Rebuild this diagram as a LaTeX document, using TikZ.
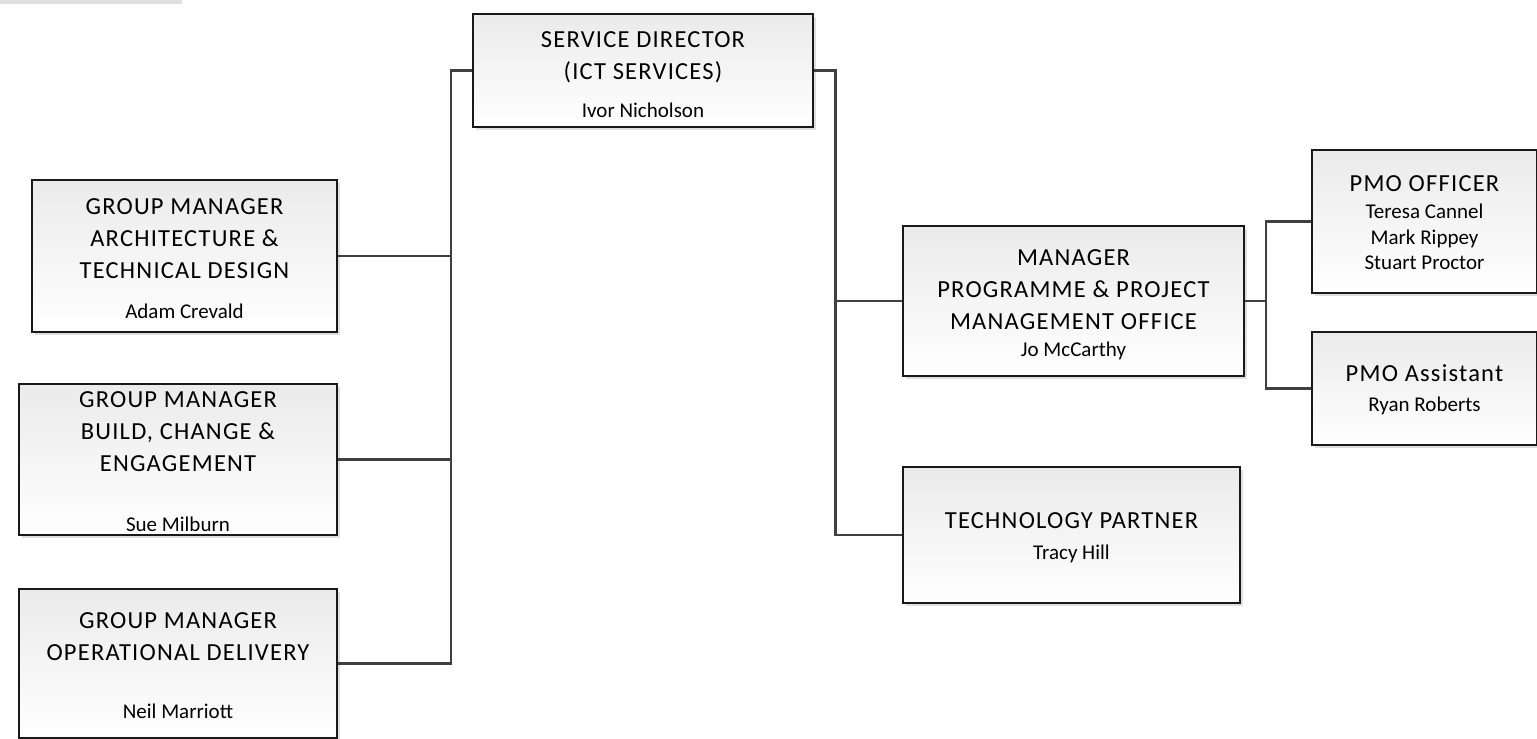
\documentclass[tikz,border=0pt]{standalone}
\usepackage{fontspec}
\setmainfont{Carlito}
\newfontfamily\spacedfamily[LetterSpace=5]{Carlito}
\usetikzlibrary{shadows}
\newcommand{\titlefont}{\spacedfamily\fontsize{24.5}{32}\selectfont}
\newcommand{\namefont}{\fontsize{21}{25.5}\selectfont}

\begin{document}
\begin{tikzpicture}[x=1pt, y=-1pt,
  orgbox/.style={draw=black!90, line width=2pt, top color=black!8, bottom color=white,
    drop shadow={shadow xshift=3pt, shadow yshift=-3pt, fill=black!25, opacity=0.5}},
  title/.style={align=center, font=\titlefont, inner sep=0pt, anchor=base},
  person/.style={align=center, font=\namefont, inner sep=0pt, anchor=base},
  link/.style={draw=black!75, line width=2.5pt}]
  \useasboundingbox (0,0) rectangle (1537,739);

  % shadow of a box above the page
  \fill[black!12] (0,0) rectangle (182,3.5);

  % buses
  \coordinate (lbus) at (451,71);
  \coordinate (rbus) at (835.5,71);
  \coordinate (pbus) at (1266,301);

  % boxes
  \node[orgbox, minimum width=340pt, minimum height=113pt] (sd) at (643,70.5) {};
  \node[orgbox, minimum width=305pt, minimum height=152pt] (arch) at (184.5,256) {};
  \node[orgbox, minimum width=318pt, minimum height=151pt] (build) at (178,459.5) {};
  \node[orgbox, minimum width=318pt, minimum height=149pt] (ops) at (178,663.5) {};
  \node[orgbox, minimum width=341pt, minimum height=150pt] (pmo) at (1073.5,301) {};
  \node[orgbox, minimum width=337pt, minimum height=136pt] (tech) at (1071.5,535) {};
  \node[orgbox, minimum width=225pt, minimum height=143pt] (officer) at (1424.5,221.5) {};
  \node[orgbox, minimum width=225pt, minimum height=113pt] (assist) at (1424.5,388.5) {};

  % links
  \draw[link] (sd.west) -| (ops.east -| lbus) -- (ops.east);
  \foreach \n in {arch,build}
    \draw[link] (\n.east) -- (\n.east -| lbus);
  \draw[link] (sd.east) -| (tech.west -| rbus) -- (tech.west);
  \draw[link] (pmo.west -| rbus) -- (pmo.west);
  \draw[link] (pmo.east) -- (pbus);
  \draw[link] (officer.west) -| (pbus) |- (assist.west);

  % texts (base = last line)
  \node[title] (sd-t) at (643,79) {SERVICE DIRECTOR\\(ICT SERVICES)};
  \node[person] (sd-p) at (643,117) {Ivor Nicholson};
  \node[title] (arch-t) at (184.5,278) {GROUP MANAGER\\ARCHITECTURE \&\\TECHNICAL DESIGN};
  \node[person] (arch-p) at (184.5,318.5) {Adam Crevald};
  \node[title] (build-t) at (178,471) {GROUP MANAGER\\BUILD, CHANGE \&\\ENGAGEMENT};
  \node[person] (build-p) at (178,531.5) {Sue Milburn};
  \node[title] (ops-t) at (178,660) {GROUP MANAGER\\OPERATIONAL DELIVERY};
  \node[person] (ops-p) at (178,718.5) {Neil Marriott};
  \node[title] (pmo-t) at (1073.5,329) {MANAGER\\PROGRAMME \& PROJECT\\MANAGEMENT OFFICE};
  \node[person] (pmo-p) at (1073.5,356.5) {Jo McCarthy};
  \node[title] (officer-t) at (1424.5,191) {PMO OFFICER};
  \node[person] (officer-p) at (1424.5,269.5) {Teresa Cannel\\Mark Rippey\\Stuart Proctor};
  \node[title] (assist-t) at (1424.5,381) {PMO Assistant};
  \node[person] (assist-p) at (1424.5,411.5) {Ryan Roberts};
  \node[title] (tech-t) at (1071.5,528) {TECHNOLOGY PARTNER};
  \node[person] (tech-p) at (1071.5,559.5) {Tracy Hill};
\end{tikzpicture}
\end{document}
